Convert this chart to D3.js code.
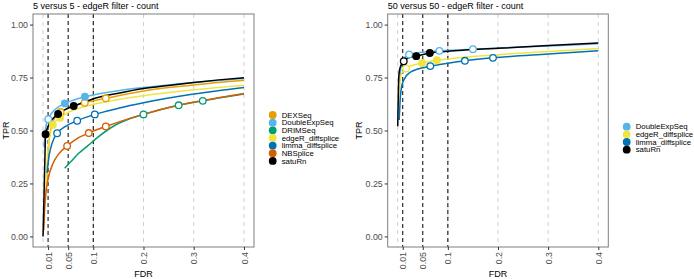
<!DOCTYPE html>
<html><head><meta charset="utf-8">
<script src="https://cdn.jsdelivr.net/npm/d3@7"></script>
<style>body{margin:0;background:#fff}svg{display:block}text{font-family:"Liberation Sans",Arial,sans-serif}</style>
</head><body><svg id="c" width="694" height="279"></svg>
<script>
// ---- data ----
const titles = ["5 versus 5 - edgeR filter - count", "50 versus 50 - edgeR filter - count"];
const xTicks = [0.01, 0.05, 0.1, 0.2, 0.3, 0.4];
const xTickLabels = ["0.01", "0.05", "0.1", "0.2", "0.3", "0.4"];
const yTicks = [0, 0.25, 0.5, 0.75, 1];
const yTickLabels = ["0.00", "0.25", "0.50", "0.75", "1.00"];
const cutoffs = [0.01, 0.05, 0.1];
const greyLines = [0, 0.1, 0.2, 0.3, 0.4];
const methods = ["DEXSeq", "DoubleExpSeq", "DRIMSeq", "edgeR_diffsplice", "limma_diffsplice", "NBSplice", "satuRn"];
const colors = ["#E69F00", "#56B4E9", "#009E73", "#F0E442", "#0072B2", "#D55E00", "#000000"];
const leftMethods = ["DEXSeq", "DoubleExpSeq", "DRIMSeq", "edgeR_diffsplice", "limma_diffsplice", "NBSplice", "satuRn"];
const rightMethods = ["DoubleExpSeq", "edgeR_diffsplice", "limma_diffsplice", "satuRn"];

// left panel curves [FDR, TPR]
const L_DEXSeq = [[0.007,0.25],[0.009,0.35],[0.012,0.45],[0.018,0.53],[0.025,0.565],[0.035,0.587],[0.05,0.606],[0.083,0.631],[0.125,0.652],[0.2,0.687],[0.3,0.715],[0.4,0.737]];
const L_DoubleExpSeq = [[0.002,0.42],[0.005,0.51],[0.0104,0.553],[0.02,0.59],[0.03,0.61],[0.0434,0.628],[0.06,0.643],[0.0833,0.659],[0.1,0.668],[0.15,0.688],[0.2,0.703],[0.3,0.727],[0.4,0.746]];
const L_DRIMSeq = [[0.043,0.322],[0.055,0.352],[0.07,0.39],[0.09,0.43],[0.11,0.47],[0.14,0.52],[0.17,0.553],[0.2,0.576],[0.27,0.619],[0.318,0.64],[0.4,0.672]];
const L_edgeR = [[0.005,0.17],[0.007,0.3],[0.01,0.42],[0.014,0.48],[0.0195,0.526],[0.034,0.56],[0.05,0.585],[0.07,0.604],[0.1,0.623],[0.14,0.642],[0.2,0.664],[0.3,0.692],[0.4,0.714]];
const L_limma = [[0.008,0.3],[0.012,0.38],[0.018,0.44],[0.028,0.487],[0.045,0.52],[0.068,0.546],[0.103,0.576],[0.15,0.605],[0.2,0.631],[0.3,0.672],[0.4,0.703]];
const L_NBSplice = [[0.0015,0.03],[0.003,0.12],[0.005,0.19],[0.01,0.27],[0.02,0.345],[0.032,0.392],[0.048,0.427],[0.07,0.465],[0.091,0.488],[0.125,0.519],[0.2,0.576],[0.27,0.619],[0.318,0.641],[0.4,0.675]];
const L_satuRn = [[0,0],[0.002,0.2],[0.004,0.4],[0.005,0.48],[0.01,0.52],[0.02,0.557],[0.03,0.578],[0.045,0.6],[0.061,0.616],[0.08,0.632],[0.1,0.65],[0.15,0.676],[0.2,0.698],[0.25,0.713],[0.3,0.727],[0.35,0.739],[0.4,0.749]];
// left panel points [FDR, TPR, filled]
const LP_DEXSeq = [[0.035,0.587,0],[0.083,0.631,0],[0.125,0.652,0]];
const LP_DoubleExpSeq = [[0.0104,0.553,0],[0.0434,0.628,1],[0.0833,0.659,1]];
const LP_DRIMSeq = [[0.2,0.576,0],[0.27,0.619,0],[0.318,0.64,0]];
const LP_edgeR = [[0.0195,0.526,1],[0.034,0.56,1]];
const LP_limma = [[0.028,0.487,0],[0.068,0.546,0],[0.103,0.576,0]];
const LP_NBSplice = [[0.048,0.427,0],[0.091,0.488,0],[0.125,0.519,0]];
const LP_satuRn = [[0.005,0.482,1],[0.03,0.578,1],[0.061,0.616,1]];

// right panel curves
const R_DoubleExpSeq = [[0.003,0.70],[0.006,0.79],[0.01,0.83],[0.0227,0.859],[0.05,0.87],[0.083,0.876],[0.15,0.884],[0.2,0.889],[0.3,0.899],[0.4,0.909]];
const R_edgeR = [[0.002,0.62],[0.004,0.72],[0.008,0.77],[0.0167,0.793],[0.03,0.808],[0.0486,0.819],[0.078,0.832],[0.1,0.838],[0.2,0.858],[0.3,0.873],[0.4,0.887]];
const R_limma = [[0.003,0.55],[0.005,0.65],[0.008,0.71],[0.015,0.75],[0.025,0.775],[0.04,0.79],[0.065,0.804],[0.1,0.818],[0.134,0.829],[0.19,0.843],[0.3,0.861],[0.4,0.876]];
const R_satuRn = [[0,0.52],[0.001,0.65],[0.002,0.75],[0.004,0.79],[0.008,0.815],[0.012,0.827],[0.02,0.842],[0.037,0.851],[0.064,0.866],[0.1,0.874],[0.2,0.888],[0.3,0.901],[0.4,0.913]];
const RP_DoubleExpSeq = [[0.0227,0.859,0],[0.083,0.876,0],[0.15,0.884,0]];
const RP_edgeR = [[0.0167,0.793,0],[0.0486,0.819,1],[0.078,0.832,1]];
const RP_limma = [[0.065,0.804,0],[0.134,0.829,0],[0.19,0.843,0]];
const RP_satuRn = [[0.012,0.827,0],[0.037,0.851,1],[0.064,0.866,1]];

const leftCurves = [L_DEXSeq, L_DoubleExpSeq, L_DRIMSeq, L_edgeR, L_limma, L_NBSplice, L_satuRn];
const leftPoints = [LP_DEXSeq, LP_DoubleExpSeq, LP_DRIMSeq, LP_edgeR, LP_limma, LP_NBSplice, LP_satuRn];
const rightCurves = [R_DoubleExpSeq, R_edgeR, R_limma, R_satuRn];
const rightPoints = [RP_DoubleExpSeq, RP_edgeR, RP_limma, RP_satuRn];

// ---- drawing ----
const svg = d3.select("#c");
const color = d3.scaleOrdinal().domain(methods).range(colors);
const panels = [
  {x0:33, x1:254, title:titles[0], names:leftMethods, curves:leftCurves, pts:leftPoints, legX:272.7, legY:115, tprX:5},
  {x0:387.7, x1:608.3, title:titles[1], names:rightMethods, curves:rightCurves, pts:rightPoints, legX:626.7, legY:126.7, tprX:358}
];
const y0 = 14, y1 = 247;

panels.forEach(p => {
  const xs = d3.scaleLinear().domain([-0.02, 0.42]).range([p.x0, p.x1]);
  const ys = d3.scaleLinear().domain([-0.05, 1.05]).range([y1, y0]);
  const g = svg.append("g");
  g.append("rect").attr("x",p.x0).attr("y",y0).attr("width",p.x1-p.x0).attr("height",y1-y0).attr("fill","#fff");
  g.selectAll(".gl").data(greyLines).join("line")
    .attr("x1",d=>xs(d)).attr("x2",d=>xs(d)).attr("y1",y0).attr("y2",y1)
    .attr("stroke","#cfcfcf").attr("stroke-width",1).attr("stroke-dasharray","4,4");
  g.selectAll(".cl").data(cutoffs).join("line")
    .attr("x1",d=>xs(d)).attr("x2",d=>xs(d)).attr("y1",y0).attr("y2",y1)
    .attr("stroke","#000").attr("stroke-width",1).attr("stroke-dasharray","4,3");
  const line = d3.line().x(d=>xs(d[0])).y(d=>ys(d[1])).curve(d3.curveMonotoneX);
  p.curves.forEach((c,i) => {
    g.append("path").attr("d",line(c)).attr("fill","none")
      .attr("stroke",color(p.names[i])).attr("stroke-width",1.5);
  });
  p.pts.forEach((pts,i) => {
    g.selectAll(null).data(pts).join("circle")
      .attr("cx",d=>xs(d[0])).attr("cy",d=>ys(d[1])).attr("r",3.3)
      .attr("fill",d=>d[2]?color(p.names[i]):"#fff")
      .attr("stroke",color(p.names[i])).attr("stroke-width",1.3);
  });
  g.append("rect").attr("x",p.x0).attr("y",y0).attr("width",p.x1-p.x0).attr("height",y1-y0)
    .attr("fill","none").attr("stroke","#7f7f7f").attr("stroke-width",1);
  // axes
  const ax = g.append("g").attr("transform",`translate(0,${y1})`)
    .call(d3.axisBottom(xs).tickValues(xTicks).tickFormat((d,i)=>xTickLabels[i]).tickSize(3).tickPadding(2));
  ax.select(".domain").remove();
  ax.selectAll(".tick line").attr("stroke","#333");
  ax.selectAll("text").attr("transform","rotate(-90)").attr("text-anchor","end")
    .attr("x",-5).attr("y",0).attr("dy","0.35em").attr("fill","#4d4d4d").style("font-size","8.8px");
  const ay = g.append("g").attr("transform",`translate(${p.x0},0)`)
    .call(d3.axisLeft(ys).tickValues(yTicks).tickFormat((d,i)=>yTickLabels[i]).tickSize(3).tickPadding(2));
  ay.select(".domain").remove();
  ay.selectAll(".tick line").attr("stroke","#333");
  ay.selectAll("text").attr("fill","#4d4d4d").style("font-size","8.8px");
  g.append("text").attr("x",p.x0).attr("y",9).text(p.title).style("font-size","9px").attr("fill","#000");
  g.append("text").attr("x",(p.x0+p.x1)/2).attr("y",277).attr("text-anchor","middle").text("FDR").style("font-size","9px");
  g.append("text").attr("transform",`translate(${p.tprX+3.5},${(y0+y1)/2}) rotate(-90)`).attr("text-anchor","middle").text("TPR").style("font-size","9px");
  // legend
  const leg = g.append("g");
  p.names.forEach((n,i) => {
    leg.append("circle").attr("cx",p.legX).attr("cy",p.legY+i*7.65).attr("r",3.9).attr("fill",color(n));
    leg.append("text").attr("x",p.legX+9).attr("y",p.legY+i*7.65).attr("dy","0.35em").text(n).style("font-size","7.8px").attr("fill","#000");
  });
});
</script></body></html>
